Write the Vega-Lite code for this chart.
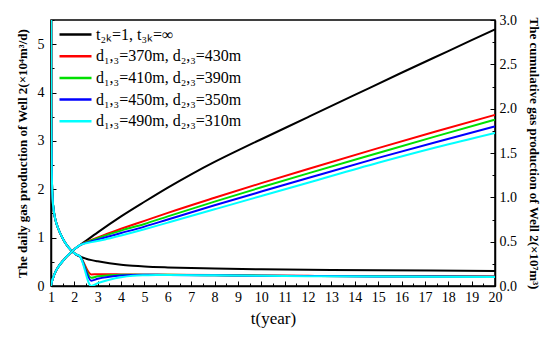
{
  "$schema": "https://vega.github.io/schema/vega-lite/v6.json",
  "width": 444,
  "height": 266,
  "autosize": "none",
  "padding": {"left": 51, "top": 20, "right": 55, "bottom": 56},
  "background": "white",
  "config": {
    "view": {"stroke": "black", "strokeWidth": 1.5},
    "font": "Liberation Serif, Times New Roman, serif",
    "axis": {
      "domainColor": "black", "domainWidth": 1.5, "tickColor": "black", "tickWidth": 1,
      "labelFont": "Liberation Serif, Times New Roman, serif", "labelFontSize": 14, "labelColor": "black",
      "titleFont": "Liberation Serif, Times New Roman, serif", "titleColor": "black", "grid": false
    },
    "legend": {"labelFont": "Liberation Serif, Times New Roman, serif", "labelFontSize": 16, "labelColor": "black"}
  },
  "datasets": {
    "daily": [
      {"s": "t₂ₖ=1, t₃ₖ=∞", "t": 1.0, "v": 9},
      {"s": "t₂ₖ=1, t₃ₖ=∞", "t": 1.01, "v": 3.6},
      {"s": "t₂ₖ=1, t₃ₖ=∞", "t": 1.03, "v": 2.4},
      {"s": "t₂ₖ=1, t₃ₖ=∞", "t": 1.07, "v": 1.8},
      {"s": "t₂ₖ=1, t₃ₖ=∞", "t": 1.12, "v": 1.55},
      {"s": "t₂ₖ=1, t₃ₖ=∞", "t": 1.2, "v": 1.35},
      {"s": "t₂ₖ=1, t₃ₖ=∞", "t": 1.3, "v": 1.2},
      {"s": "t₂ₖ=1, t₃ₖ=∞", "t": 1.45, "v": 1.03},
      {"s": "t₂ₖ=1, t₃ₖ=∞", "t": 1.6, "v": 0.9},
      {"s": "t₂ₖ=1, t₃ₖ=∞", "t": 1.75, "v": 0.8},
      {"s": "t₂ₖ=1, t₃ₖ=∞", "t": 1.9, "v": 0.72},
      {"s": "t₂ₖ=1, t₃ₖ=∞", "t": 2.05, "v": 0.66},
      {"s": "t₂ₖ=1, t₃ₖ=∞", "t": 2.24, "v": 0.61},
      {"s": "t₂ₖ=1, t₃ₖ=∞", "t": 2.5, "v": 0.565},
      {"s": "t₂ₖ=1, t₃ₖ=∞", "t": 2.74, "v": 0.535},
      {"s": "t₂ₖ=1, t₃ₖ=∞", "t": 3, "v": 0.51},
      {"s": "t₂ₖ=1, t₃ₖ=∞", "t": 3.5, "v": 0.47},
      {"s": "t₂ₖ=1, t₃ₖ=∞", "t": 4, "v": 0.44},
      {"s": "t₂ₖ=1, t₃ₖ=∞", "t": 4.5, "v": 0.42},
      {"s": "t₂ₖ=1, t₃ₖ=∞", "t": 5, "v": 0.405},
      {"s": "t₂ₖ=1, t₃ₖ=∞", "t": 6, "v": 0.385},
      {"s": "t₂ₖ=1, t₃ₖ=∞", "t": 7, "v": 0.37},
      {"s": "t₂ₖ=1, t₃ₖ=∞", "t": 8, "v": 0.36},
      {"s": "t₂ₖ=1, t₃ₖ=∞", "t": 10, "v": 0.345},
      {"s": "t₂ₖ=1, t₃ₖ=∞", "t": 12, "v": 0.335},
      {"s": "t₂ₖ=1, t₃ₖ=∞", "t": 15, "v": 0.325},
      {"s": "t₂ₖ=1, t₃ₖ=∞", "t": 20, "v": 0.31},

      {"s": "d₁,₃=370m, d₂,₃=430m", "t": 1.0, "v": 9},
      {"s": "d₁,₃=370m, d₂,₃=430m", "t": 1.01, "v": 3.6},
      {"s": "d₁,₃=370m, d₂,₃=430m", "t": 1.03, "v": 2.4},
      {"s": "d₁,₃=370m, d₂,₃=430m", "t": 1.07, "v": 1.8},
      {"s": "d₁,₃=370m, d₂,₃=430m", "t": 1.12, "v": 1.55},
      {"s": "d₁,₃=370m, d₂,₃=430m", "t": 1.2, "v": 1.35},
      {"s": "d₁,₃=370m, d₂,₃=430m", "t": 1.3, "v": 1.2},
      {"s": "d₁,₃=370m, d₂,₃=430m", "t": 1.45, "v": 1.03},
      {"s": "d₁,₃=370m, d₂,₃=430m", "t": 1.6, "v": 0.9},
      {"s": "d₁,₃=370m, d₂,₃=430m", "t": 1.75, "v": 0.8},
      {"s": "d₁,₃=370m, d₂,₃=430m", "t": 1.9, "v": 0.72},
      {"s": "d₁,₃=370m, d₂,₃=430m", "t": 2.05, "v": 0.66},
      {"s": "d₁,₃=370m, d₂,₃=430m", "t": 2.24, "v": 0.61},
      {"s": "d₁,₃=370m, d₂,₃=430m", "t": 2.72, "v": 0.24},
      {"s": "d₁,₃=370m, d₂,₃=430m", "t": 3, "v": 0.245},
      {"s": "d₁,₃=370m, d₂,₃=430m", "t": 3.5, "v": 0.245},
      {"s": "d₁,₃=370m, d₂,₃=430m", "t": 4, "v": 0.24},
      {"s": "d₁,₃=370m, d₂,₃=430m", "t": 5, "v": 0.235},
      {"s": "d₁,₃=370m, d₂,₃=430m", "t": 6, "v": 0.232},
      {"s": "d₁,₃=370m, d₂,₃=430m", "t": 8, "v": 0.225},
      {"s": "d₁,₃=370m, d₂,₃=430m", "t": 10, "v": 0.216},
      {"s": "d₁,₃=370m, d₂,₃=430m", "t": 12, "v": 0.21},
      {"s": "d₁,₃=370m, d₂,₃=430m", "t": 15, "v": 0.203},
      {"s": "d₁,₃=370m, d₂,₃=430m", "t": 20, "v": 0.195},

      {"s": "d₁,₃=410m, d₂,₃=390m", "t": 1.0, "v": 9},
      {"s": "d₁,₃=410m, d₂,₃=390m", "t": 1.01, "v": 3.6},
      {"s": "d₁,₃=410m, d₂,₃=390m", "t": 1.03, "v": 2.4},
      {"s": "d₁,₃=410m, d₂,₃=390m", "t": 1.07, "v": 1.8},
      {"s": "d₁,₃=410m, d₂,₃=390m", "t": 1.12, "v": 1.55},
      {"s": "d₁,₃=410m, d₂,₃=390m", "t": 1.2, "v": 1.35},
      {"s": "d₁,₃=410m, d₂,₃=390m", "t": 1.3, "v": 1.2},
      {"s": "d₁,₃=410m, d₂,₃=390m", "t": 1.45, "v": 1.03},
      {"s": "d₁,₃=410m, d₂,₃=390m", "t": 1.6, "v": 0.9},
      {"s": "d₁,₃=410m, d₂,₃=390m", "t": 1.75, "v": 0.8},
      {"s": "d₁,₃=410m, d₂,₃=390m", "t": 1.9, "v": 0.72},
      {"s": "d₁,₃=410m, d₂,₃=390m", "t": 2.05, "v": 0.66},
      {"s": "d₁,₃=410m, d₂,₃=390m", "t": 2.24, "v": 0.61},
      {"s": "d₁,₃=410m, d₂,₃=390m", "t": 2.72, "v": 0.17},
      {"s": "d₁,₃=410m, d₂,₃=390m", "t": 3, "v": 0.2},
      {"s": "d₁,₃=410m, d₂,₃=390m", "t": 3.5, "v": 0.222},
      {"s": "d₁,₃=410m, d₂,₃=390m", "t": 4, "v": 0.232},
      {"s": "d₁,₃=410m, d₂,₃=390m", "t": 5, "v": 0.234},
      {"s": "d₁,₃=410m, d₂,₃=390m", "t": 6, "v": 0.231},
      {"s": "d₁,₃=410m, d₂,₃=390m", "t": 8, "v": 0.223},
      {"s": "d₁,₃=410m, d₂,₃=390m", "t": 10, "v": 0.214},
      {"s": "d₁,₃=410m, d₂,₃=390m", "t": 12, "v": 0.208},
      {"s": "d₁,₃=410m, d₂,₃=390m", "t": 15, "v": 0.201},
      {"s": "d₁,₃=410m, d₂,₃=390m", "t": 20, "v": 0.193},

      {"s": "d₁,₃=450m, d₂,₃=350m", "t": 1.0, "v": 9},
      {"s": "d₁,₃=450m, d₂,₃=350m", "t": 1.01, "v": 3.6},
      {"s": "d₁,₃=450m, d₂,₃=350m", "t": 1.03, "v": 2.4},
      {"s": "d₁,₃=450m, d₂,₃=350m", "t": 1.07, "v": 1.8},
      {"s": "d₁,₃=450m, d₂,₃=350m", "t": 1.12, "v": 1.55},
      {"s": "d₁,₃=450m, d₂,₃=350m", "t": 1.2, "v": 1.35},
      {"s": "d₁,₃=450m, d₂,₃=350m", "t": 1.3, "v": 1.2},
      {"s": "d₁,₃=450m, d₂,₃=350m", "t": 1.45, "v": 1.03},
      {"s": "d₁,₃=450m, d₂,₃=350m", "t": 1.6, "v": 0.9},
      {"s": "d₁,₃=450m, d₂,₃=350m", "t": 1.75, "v": 0.8},
      {"s": "d₁,₃=450m, d₂,₃=350m", "t": 1.9, "v": 0.72},
      {"s": "d₁,₃=450m, d₂,₃=350m", "t": 2.05, "v": 0.66},
      {"s": "d₁,₃=450m, d₂,₃=350m", "t": 2.24, "v": 0.61},
      {"s": "d₁,₃=450m, d₂,₃=350m", "t": 2.72, "v": 0.11},
      {"s": "d₁,₃=450m, d₂,₃=350m", "t": 3, "v": 0.15},
      {"s": "d₁,₃=450m, d₂,₃=350m", "t": 3.5, "v": 0.19},
      {"s": "d₁,₃=450m, d₂,₃=350m", "t": 4, "v": 0.215},
      {"s": "d₁,₃=450m, d₂,₃=350m", "t": 4.5, "v": 0.228},
      {"s": "d₁,₃=450m, d₂,₃=350m", "t": 5, "v": 0.232},
      {"s": "d₁,₃=450m, d₂,₃=350m", "t": 6, "v": 0.23},
      {"s": "d₁,₃=450m, d₂,₃=350m", "t": 8, "v": 0.222},
      {"s": "d₁,₃=450m, d₂,₃=350m", "t": 10, "v": 0.213},
      {"s": "d₁,₃=450m, d₂,₃=350m", "t": 12, "v": 0.206},
      {"s": "d₁,₃=450m, d₂,₃=350m", "t": 15, "v": 0.199},
      {"s": "d₁,₃=450m, d₂,₃=350m", "t": 20, "v": 0.19},

      {"s": "d₁,₃=490m, d₂,₃=310m", "t": 1.0, "v": 9},
      {"s": "d₁,₃=490m, d₂,₃=310m", "t": 1.01, "v": 3.6},
      {"s": "d₁,₃=490m, d₂,₃=310m", "t": 1.03, "v": 2.4},
      {"s": "d₁,₃=490m, d₂,₃=310m", "t": 1.07, "v": 1.8},
      {"s": "d₁,₃=490m, d₂,₃=310m", "t": 1.12, "v": 1.55},
      {"s": "d₁,₃=490m, d₂,₃=310m", "t": 1.2, "v": 1.35},
      {"s": "d₁,₃=490m, d₂,₃=310m", "t": 1.3, "v": 1.2},
      {"s": "d₁,₃=490m, d₂,₃=310m", "t": 1.45, "v": 1.03},
      {"s": "d₁,₃=490m, d₂,₃=310m", "t": 1.6, "v": 0.9},
      {"s": "d₁,₃=490m, d₂,₃=310m", "t": 1.75, "v": 0.8},
      {"s": "d₁,₃=490m, d₂,₃=310m", "t": 1.9, "v": 0.72},
      {"s": "d₁,₃=490m, d₂,₃=310m", "t": 2.05, "v": 0.66},
      {"s": "d₁,₃=490m, d₂,₃=310m", "t": 2.24, "v": 0.61},
      {"s": "d₁,₃=490m, d₂,₃=310m", "t": 2.72, "v": 0.0},
      {"s": "d₁,₃=490m, d₂,₃=310m", "t": 3, "v": 0.06},
      {"s": "d₁,₃=490m, d₂,₃=310m", "t": 3.5, "v": 0.13},
      {"s": "d₁,₃=490m, d₂,₃=310m", "t": 4, "v": 0.18},
      {"s": "d₁,₃=490m, d₂,₃=310m", "t": 4.5, "v": 0.21},
      {"s": "d₁,₃=490m, d₂,₃=310m", "t": 5, "v": 0.222},
      {"s": "d₁,₃=490m, d₂,₃=310m", "t": 5.5, "v": 0.228},
      {"s": "d₁,₃=490m, d₂,₃=310m", "t": 6, "v": 0.228},
      {"s": "d₁,₃=490m, d₂,₃=310m", "t": 8, "v": 0.22},
      {"s": "d₁,₃=490m, d₂,₃=310m", "t": 10, "v": 0.211},
      {"s": "d₁,₃=490m, d₂,₃=310m", "t": 12, "v": 0.204},
      {"s": "d₁,₃=490m, d₂,₃=310m", "t": 15, "v": 0.197},
      {"s": "d₁,₃=490m, d₂,₃=310m", "t": 20, "v": 0.188}
    ],
    "cum": [
      {"s": "t₂ₖ=1, t₃ₖ=∞", "t": 1.0, "v": 0},
      {"s": "t₂ₖ=1, t₃ₖ=∞", "t": 1.03, "v": 0.04},
      {"s": "t₂ₖ=1, t₃ₖ=∞", "t": 1.1, "v": 0.1},
      {"s": "t₂ₖ=1, t₃ₖ=∞", "t": 1.2, "v": 0.165},
      {"s": "t₂ₖ=1, t₃ₖ=∞", "t": 1.31, "v": 0.215},
      {"s": "t₂ₖ=1, t₃ₖ=∞", "t": 1.53, "v": 0.29},
      {"s": "t₂ₖ=1, t₃ₖ=∞", "t": 1.7, "v": 0.34},
      {"s": "t₂ₖ=1, t₃ₖ=∞", "t": 1.88, "v": 0.385},
      {"s": "t₂ₖ=1, t₃ₖ=∞", "t": 2.05, "v": 0.425},
      {"s": "t₂ₖ=1, t₃ₖ=∞", "t": 2.24, "v": 0.46},
      {"s": "t₂ₖ=1, t₃ₖ=∞", "t": 3, "v": 0.605},
      {"s": "t₂ₖ=1, t₃ₖ=∞", "t": 4, "v": 0.785},
      {"s": "t₂ₖ=1, t₃ₖ=∞", "t": 5, "v": 0.95},
      {"s": "t₂ₖ=1, t₃ₖ=∞", "t": 6, "v": 1.11},
      {"s": "t₂ₖ=1, t₃ₖ=∞", "t": 7, "v": 1.26},
      {"s": "t₂ₖ=1, t₃ₖ=∞", "t": 8, "v": 1.4},
      {"s": "t₂ₖ=1, t₃ₖ=∞", "t": 9, "v": 1.53},
      {"s": "t₂ₖ=1, t₃ₖ=∞", "t": 10, "v": 1.655},
      {"s": "t₂ₖ=1, t₃ₖ=∞", "t": 12, "v": 1.905},
      {"s": "t₂ₖ=1, t₃ₖ=∞", "t": 14, "v": 2.155},
      {"s": "t₂ₖ=1, t₃ₖ=∞", "t": 16, "v": 2.405},
      {"s": "t₂ₖ=1, t₃ₖ=∞", "t": 18, "v": 2.65},
      {"s": "t₂ₖ=1, t₃ₖ=∞", "t": 20, "v": 2.895},

      {"s": "d₁,₃=370m, d₂,₃=430m", "t": 1.0, "v": 0},
      {"s": "d₁,₃=370m, d₂,₃=430m", "t": 1.03, "v": 0.04},
      {"s": "d₁,₃=370m, d₂,₃=430m", "t": 1.1, "v": 0.1},
      {"s": "d₁,₃=370m, d₂,₃=430m", "t": 1.2, "v": 0.165},
      {"s": "d₁,₃=370m, d₂,₃=430m", "t": 1.31, "v": 0.215},
      {"s": "d₁,₃=370m, d₂,₃=430m", "t": 1.53, "v": 0.29},
      {"s": "d₁,₃=370m, d₂,₃=430m", "t": 1.7, "v": 0.34},
      {"s": "d₁,₃=370m, d₂,₃=430m", "t": 1.88, "v": 0.385},
      {"s": "d₁,₃=370m, d₂,₃=430m", "t": 2.05, "v": 0.425},
      {"s": "d₁,₃=370m, d₂,₃=430m", "t": 2.24, "v": 0.46},
      {"s": "d₁,₃=370m, d₂,₃=430m", "t": 2.74, "v": 0.52},
      {"s": "d₁,₃=370m, d₂,₃=430m", "t": 3.31, "v": 0.58},
      {"s": "d₁,₃=370m, d₂,₃=430m", "t": 4, "v": 0.645},
      {"s": "d₁,₃=370m, d₂,₃=430m", "t": 5, "v": 0.735},
      {"s": "d₁,₃=370m, d₂,₃=430m", "t": 6, "v": 0.825},
      {"s": "d₁,₃=370m, d₂,₃=430m", "t": 8, "v": 0.995},
      {"s": "d₁,₃=370m, d₂,₃=430m", "t": 10, "v": 1.16},
      {"s": "d₁,₃=370m, d₂,₃=430m", "t": 12, "v": 1.32},
      {"s": "d₁,₃=370m, d₂,₃=430m", "t": 15, "v": 1.555},
      {"s": "d₁,₃=370m, d₂,₃=430m", "t": 17.5, "v": 1.745},
      {"s": "d₁,₃=370m, d₂,₃=430m", "t": 20, "v": 1.93},

      {"s": "d₁,₃=410m, d₂,₃=390m", "t": 1.0, "v": 0},
      {"s": "d₁,₃=410m, d₂,₃=390m", "t": 1.03, "v": 0.04},
      {"s": "d₁,₃=410m, d₂,₃=390m", "t": 1.1, "v": 0.1},
      {"s": "d₁,₃=410m, d₂,₃=390m", "t": 1.2, "v": 0.165},
      {"s": "d₁,₃=410m, d₂,₃=390m", "t": 1.31, "v": 0.215},
      {"s": "d₁,₃=410m, d₂,₃=390m", "t": 1.53, "v": 0.29},
      {"s": "d₁,₃=410m, d₂,₃=390m", "t": 1.7, "v": 0.34},
      {"s": "d₁,₃=410m, d₂,₃=390m", "t": 1.88, "v": 0.385},
      {"s": "d₁,₃=410m, d₂,₃=390m", "t": 2.05, "v": 0.425},
      {"s": "d₁,₃=410m, d₂,₃=390m", "t": 2.24, "v": 0.46},
      {"s": "d₁,₃=410m, d₂,₃=390m", "t": 2.74, "v": 0.515},
      {"s": "d₁,₃=410m, d₂,₃=390m", "t": 3.31, "v": 0.568},
      {"s": "d₁,₃=410m, d₂,₃=390m", "t": 4, "v": 0.625},
      {"s": "d₁,₃=410m, d₂,₃=390m", "t": 5, "v": 0.7},
      {"s": "d₁,₃=410m, d₂,₃=390m", "t": 6, "v": 0.785},
      {"s": "d₁,₃=410m, d₂,₃=390m", "t": 8, "v": 0.952},
      {"s": "d₁,₃=410m, d₂,₃=390m", "t": 10, "v": 1.113},
      {"s": "d₁,₃=410m, d₂,₃=390m", "t": 12, "v": 1.27},
      {"s": "d₁,₃=410m, d₂,₃=390m", "t": 15, "v": 1.5},
      {"s": "d₁,₃=410m, d₂,₃=390m", "t": 17.5, "v": 1.69},
      {"s": "d₁,₃=410m, d₂,₃=390m", "t": 20, "v": 1.876},

      {"s": "d₁,₃=450m, d₂,₃=350m", "t": 1.0, "v": 0},
      {"s": "d₁,₃=450m, d₂,₃=350m", "t": 1.03, "v": 0.04},
      {"s": "d₁,₃=450m, d₂,₃=350m", "t": 1.1, "v": 0.1},
      {"s": "d₁,₃=450m, d₂,₃=350m", "t": 1.2, "v": 0.165},
      {"s": "d₁,₃=450m, d₂,₃=350m", "t": 1.31, "v": 0.215},
      {"s": "d₁,₃=450m, d₂,₃=350m", "t": 1.53, "v": 0.29},
      {"s": "d₁,₃=450m, d₂,₃=350m", "t": 1.7, "v": 0.34},
      {"s": "d₁,₃=450m, d₂,₃=350m", "t": 1.88, "v": 0.385},
      {"s": "d₁,₃=450m, d₂,₃=350m", "t": 2.05, "v": 0.425},
      {"s": "d₁,₃=450m, d₂,₃=350m", "t": 2.24, "v": 0.46},
      {"s": "d₁,₃=450m, d₂,₃=350m", "t": 2.74, "v": 0.505},
      {"s": "d₁,₃=450m, d₂,₃=350m", "t": 3.31, "v": 0.547},
      {"s": "d₁,₃=450m, d₂,₃=350m", "t": 4, "v": 0.597},
      {"s": "d₁,₃=450m, d₂,₃=350m", "t": 5, "v": 0.67},
      {"s": "d₁,₃=450m, d₂,₃=350m", "t": 6, "v": 0.75},
      {"s": "d₁,₃=450m, d₂,₃=350m", "t": 8, "v": 0.91},
      {"s": "d₁,₃=450m, d₂,₃=350m", "t": 10, "v": 1.065},
      {"s": "d₁,₃=450m, d₂,₃=350m", "t": 12, "v": 1.218},
      {"s": "d₁,₃=450m, d₂,₃=350m", "t": 15, "v": 1.445},
      {"s": "d₁,₃=450m, d₂,₃=350m", "t": 17.5, "v": 1.625},
      {"s": "d₁,₃=450m, d₂,₃=350m", "t": 20, "v": 1.8},

      {"s": "d₁,₃=490m, d₂,₃=310m", "t": 1.0, "v": 0},
      {"s": "d₁,₃=490m, d₂,₃=310m", "t": 1.03, "v": 0.04},
      {"s": "d₁,₃=490m, d₂,₃=310m", "t": 1.1, "v": 0.1},
      {"s": "d₁,₃=490m, d₂,₃=310m", "t": 1.2, "v": 0.165},
      {"s": "d₁,₃=490m, d₂,₃=310m", "t": 1.31, "v": 0.215},
      {"s": "d₁,₃=490m, d₂,₃=310m", "t": 1.53, "v": 0.29},
      {"s": "d₁,₃=490m, d₂,₃=310m", "t": 1.7, "v": 0.34},
      {"s": "d₁,₃=490m, d₂,₃=310m", "t": 1.88, "v": 0.385},
      {"s": "d₁,₃=490m, d₂,₃=310m", "t": 2.05, "v": 0.425},
      {"s": "d₁,₃=490m, d₂,₃=310m", "t": 2.24, "v": 0.46},
      {"s": "d₁,₃=490m, d₂,₃=310m", "t": 2.74, "v": 0.495},
      {"s": "d₁,₃=490m, d₂,₃=310m", "t": 3.31, "v": 0.525},
      {"s": "d₁,₃=490m, d₂,₃=310m", "t": 4, "v": 0.57},
      {"s": "d₁,₃=490m, d₂,₃=310m", "t": 5, "v": 0.64},
      {"s": "d₁,₃=490m, d₂,₃=310m", "t": 6, "v": 0.715},
      {"s": "d₁,₃=490m, d₂,₃=310m", "t": 8, "v": 0.865},
      {"s": "d₁,₃=490m, d₂,₃=310m", "t": 10, "v": 1.015},
      {"s": "d₁,₃=490m, d₂,₃=310m", "t": 12, "v": 1.165},
      {"s": "d₁,₃=490m, d₂,₃=310m", "t": 15, "v": 1.39},
      {"s": "d₁,₃=490m, d₂,₃=310m", "t": 17.5, "v": 1.565},
      {"s": "d₁,₃=490m, d₂,₃=310m", "t": 20, "v": 1.727}
    ]
  },
  "encoding": {
    "x": {
      "field": "t", "type": "quantitative",
      "scale": {"domain": [1, 20], "nice": false, "zero": false},
      "axis": {
        "title": "t(year)", "titleFontSize": 17, "titleFontWeight": "normal", "titlePadding": 4,
        "values": [1,1.5,2,2.5,3,3.5,4,4.5,5,5.5,6,6.5,7,7.5,8,8.5,9,9.5,10,10.5,11,11.5,12,12.5,13,13.5,14,14.5,15,15.5,16,16.5,17,17.5,18,18.5,19,19.5,20],
        "labelExpr": "datum.value % 1 === 0 ? format(datum.value, 'd') : ''",
        "tickSize": {"condition": {"test": "datum.value % 1 === 0", "value": -5}, "value": -3},
        "labelPadding": 9, "labelFlush": false, "labelOverlap": false
      }
    },
    "color": {
      "field": "s", "type": "nominal",
      "scale": {
        "domain": ["t₂ₖ=1, t₃ₖ=∞", "d₁,₃=370m, d₂,₃=430m", "d₁,₃=410m, d₂,₃=390m", "d₁,₃=450m, d₂,₃=350m", "d₁,₃=490m, d₂,₃=310m"],
        "range": ["#000000", "#ff0000", "#00e000", "#0000ff", "#00ffff"]
      },
      "legend": {
        "title": null, "orient": "none", "legendX": 13, "legendY": 3, "padding": 0,
        "symbolType": "M-1.6,0H1.6", "symbolSize": 400, "symbolStrokeWidth": 2.5,
        "labelOffset": 9, "rowPadding": 1.7, "labelLimit": 300
      }
    }
  },
  "layer": [
    {
      "data": {"name": "daily"},
      "mark": {"type": "line", "clip": true, "strokeWidth": 2, "interpolate": "monotone"},
      "encoding": {
        "y": {
          "field": "v", "type": "quantitative",
          "scale": {"domain": [0, 5.5], "nice": false},
          "axis": {
            "orient": "left",
            "title": "The daily gas production of Well 2(×10⁴m³/d)",
            "titleFontSize": 13, "titleFontWeight": "bold", "titlePadding": 8,
            "values": [0, 0.5, 1, 1.5, 2, 2.5, 3, 3.5, 4, 4.5, 5, 5.5],
            "labelExpr": "datum.value % 1 === 0 ? format(datum.value, 'd') : ''",
            "tickSize": {"condition": {"test": "datum.value % 1 === 0", "value": -5}, "value": -3},
            "labelPadding": 12, "labelOverlap": false, "labelFlush": false
          }
        }
      }
    },
    {
      "data": {"name": "cum"},
      "mark": {"type": "line", "clip": true, "strokeWidth": 2, "interpolate": "monotone"},
      "encoding": {
        "y": {
          "field": "v", "type": "quantitative",
          "scale": {"domain": [0, 3], "nice": false},
          "axis": {
            "orient": "right",
            "title": "The cumulative gas production of Well 2(×10⁷m³)",
            "titleFontSize": 13, "titleFontWeight": "bold", "titlePadding": 10,
            "values": [0, 0.25, 0.5, 0.75, 1, 1.25, 1.5, 1.75, 2, 2.25, 2.5, 2.75, 3],
            "labelExpr": "datum.value % 0.5 === 0 ? format(datum.value, '.1f') : ''",
            "tickSize": {"condition": {"test": "datum.value % 0.5 === 0", "value": -5}, "value": -3},
            "labelPadding": 9, "labelOverlap": false, "labelFlush": false
          }
        }
      }
    }
  ],
  "resolve": {"scale": {"y": "independent"}}
}
